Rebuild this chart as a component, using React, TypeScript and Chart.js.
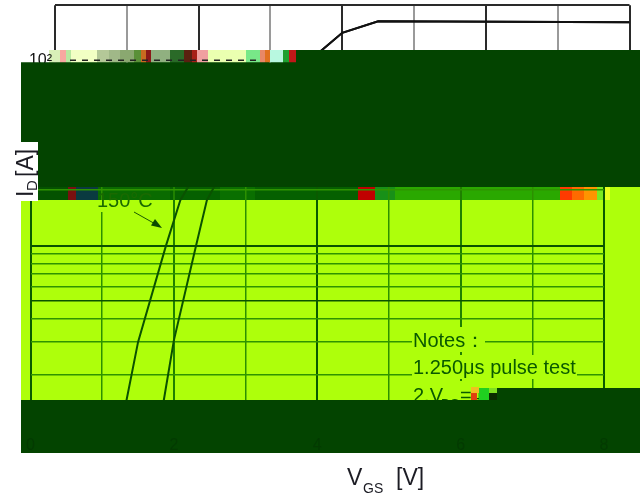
import React, { useEffect, useRef } from "react";
import { Chart, registerables } from "chart.js";

Chart.register(...registerables);

// Values (V_GS in volts, I_D in amperes); the stretch
// hidden by the dark bands is estimated.
const vgsCold = [1.25, 1.34, 1.5, 1.89, 2.09, 3.0, 3.7, 4.0, 4.5, 8];
const idCold = [1, 1.46, 3.0, 10, 17.6, 70, 113, 142, 164, 162];
const vgsHot = [1.78, 1.86, 2.0, 2.31, 2.46, 3.3, 3.7, 4.0, 4.5, 8];
const idHot = [1, 1.46, 3.07, 10, 17.6, 70, 113, 142, 164, 162];
const xMin = 0;
const xMax = 8;
const yMin = 1;
const yMax = 200;
const yTickValues = [1, 2, 3, 4, 5, 6, 7, 8, 9, 10, 20, 30, 40, 50, 60, 70, 80, 90, 100, 200];
const xLabels: Record<number, string> = { 0: "0", 2: "2", 4: "4", 6: "6", 8: "8" };
const yLabels: Record<number, string> = { 1: "10⁰", 10: "10¹", 100: "10²" };
const tempLabel = "150°C";
const noteHead = "Notes：";
const noteOne = "1.250μs pulse test";
const FONT = '"Liberation Sans", Arial, sans-serif';

const DARK = "#034400";
const LIME = "#aeff0b";

// Damaged-image decoration: [x, width, colour]
const topStrip: [number, number, string][] = [
  [21, 28, "#ffffff"], [49, 11, "#d8efb8"], [60, 6, "#f8a8a0"], [66, 5, "#b8e8a0"],
  [71, 26, "#f2ffc4"], [97, 12, "#b4c898"], [109, 11, "#a0b888"], [120, 14, "#8aa870"],
  [134, 7, "#5a9038"], [141, 5, "#c86a20"], [146, 5, "#8a1818"], [151, 19, "#90b080"],
  [170, 14, "#2a6a28"], [184, 8, "#5a2010"], [192, 5, "#a82018"], [197, 11, "#f0a0a0"],
  [208, 38, "#eaffb0"], [246, 14, "#78e888"], [260, 5, "#e88868"], [265, 5, "#e07020"],
  [270, 13, "#b8f8e0"], [283, 6, "#20a030"], [289, 7, "#c01818"],
];
const lowStrip: [number, number, string][] = [
  [21, 47, "#045200"], [68, 8, "#7a1010"], [76, 22, "#0a3a40"], [98, 72, "#0a6b00"],
  [170, 50, "#056000"], [220, 35, "#0a6f00"], [255, 103, "#056000"], [358, 17, "#c00000"],
  [375, 20, "#189018"], [395, 165, "#2aa800"], [560, 12, "#ff3a00"], [572, 12, "#ff6a00"],
  [584, 13, "#ff9400"], [597, 6, "#7cea20"], [603, 7, "#e8ff20"],
];

function plainText(c: CanvasRenderingContext2D, s: string, x: number, y: number, font: string, color: string) {
  c.font = font;
  c.fillStyle = color;
  c.textAlign = "left";
  c.textBaseline = "alphabetic";
  c.fillText(s, x, y);
}

function noOverflow(s: any) {
  s.paddingTop = 0;
  s.paddingBottom = 0;
  s.paddingLeft = 0;
  s.paddingRight = 0;
}

function sharedOptions(tickColor: string, size: number, left: number, right: number, xGrid: any, yGrid: any, showY: boolean, plugin: any) {
  return {
    type: "line" as const,
    data: {
      datasets: [
        { label: "25°C", data: vgsCold.map((x, i) => ({ x, y: idCold[i] })) },
        { label: tempLabel, data: vgsHot.map((x, i) => ({ x, y: idHot[i] })) },
      ],
    },
    options: {
      responsive: false,
      animation: false as const,
      layout: { padding: { left: 0, right, top: 5.3, bottom: 0 } },
      elements: { point: { radius: 0 }, line: { tension: 0, borderWidth: 2 } },
      plugins: { legend: { display: false }, tooltip: { enabled: false } },
      scales: {
        x: {
          type: "linear" as const,
          min: xMin,
          max: xMax,
          border: { display: false },
          grid: { drawTicks: false, color: xGrid.color, lineWidth: xGrid.width },
          afterFit: (s: any) => { s.height = 65.7; noOverflow(s); },
          ticks: {
            stepSize: 1, autoSkip: false, maxRotation: 0, z: 1, padding: 6, color: tickColor,
            font: { family: FONT, size },
            callback: (v: any) => xLabels[Number(v)] ?? "",
          },
        },
        y: {
          type: "logarithmic" as const,
          min: yMin,
          max: yMax,
          border: { display: false },
          grid: { drawTicks: false, color: yGrid.color, lineWidth: yGrid.width },
          afterBuildTicks: (s: any) => { s.ticks = yTickValues.map((value) => ({ value })); },
          afterFit: (s: any) => { s.width = left; noOverflow(s); },
          ticks: {
            display: showY, autoSkip: false, maxRotation: 0, z: 1, padding: 3, color: tickColor,
            font: { family: FONT, size },
            callback: (v: any) => yLabels[Number(v)] ?? "",
          },
        },
      },
    },
    plugins: [plugin],
  };
}

const lowerPlugin = {
  id: "lowerLayer",
  beforeDraw(chart: any) {
    const c = chart.ctx as CanvasRenderingContext2D;
    c.save();
    c.fillStyle = "#ffffff";
    c.fillRect(0, 0, 640, 496);
    c.fillStyle = LIME;
    c.fillRect(21, 187, 619, 213);
    for (const [x, w, col] of lowStrip) {
      c.fillStyle = col;
      c.fillRect(x, 187, w, 13);
    }
    c.restore();
  },
  afterDatasetsDraw(chart: any) {
    const c = chart.ctx as CanvasRenderingContext2D;
    c.save();
    // the lower layer does not reach the top of the image
    c.fillStyle = "#ffffff";
    c.fillRect(0, 0, 640, 50);
    // temperature label and arrow
    c.fillStyle = LIME;
    c.fillRect(97, 200, 54, 12);
    plainText(c, tempLabel, 97, 207, `20px ${FONT}`, "#1a6a00");
    c.strokeStyle = "#1a5a00";
    c.lineWidth = 1;
    c.beginPath(); c.moveTo(134, 212); c.lineTo(158, 225.5); c.stroke();
    c.fillStyle = "#0a4a00";
    c.beginPath(); c.moveTo(162, 228); c.lineTo(151, 225.5); c.lineTo(155, 219); c.closePath(); c.fill();
    // notes
    c.fillStyle = LIME;
    c.fillRect(412, 327, 73, 25);
    c.fillRect(412, 355, 165, 24);
    c.fillRect(412, 381, 108, 19);
    const noteFont = `20px ${FONT}`;
    const ink = "#0a5a00";
    plainText(c, noteHead, 413, 347, noteFont, ink);
    plainText(c, noteOne, 413, 374, noteFont, ink);
    plainText(c, "2.V", 413, 402, noteFont, ink);
    plainText(c, "DS", 441, 408, `13px ${FONT}`, ink);
    plainText(c, "=40V", 460, 402, noteFont, ink);
    // dark bands
    c.fillStyle = DARK;
    c.fillRect(21, 50, 619, 137);
    c.fillRect(21, 400, 619, 53);
    c.fillRect(497, 388, 143, 12);
    // damage around the note
    const bits: [number, number, number, number, string][] = [
      [471, 387, 8, 6, "#f0c020"], [471, 393, 6, 7, "#e04010"], [479, 388, 10, 12, "#20d020"], [489, 388, 8, 5, "#80e020"], [489, 393, 8, 7, "#0a2a00"],
    ];
    for (const [x, y, w, h, col] of bits) {
      c.fillStyle = col;
      c.fillRect(x, y, w, h);
    }
    // axis titles
    c.fillStyle = "#ffffff";
    c.fillRect(8, 142, 30, 59);
    const titleInk = "#1c1c24";
    c.save();
    c.translate(33, 197);
    c.rotate(-Math.PI / 2);
    plainText(c, "I", 0, 0, `23px ${FONT}`, titleInk);
    plainText(c, "D", 6, 4, `15px ${FONT}`, titleInk);
    plainText(c, "[A]", 20, 0, `23px ${FONT}`, titleInk);
    c.restore();
    plainText(c, "V", 347, 485, `23px ${FONT}`, titleInk);
    plainText(c, "GS", 363, 493, `14px ${FONT}`, titleInk);
    plainText(c, "[V]", 396, 485, `23px ${FONT}`, titleInk);
    c.restore();
  },
};

const upperPlugin = {
  id: "upperLayer",
  afterDatasetsDraw(chart: any) {
    const c = chart.ctx as CanvasRenderingContext2D;
    c.save();
    for (const [x, w, col] of topStrip) {
      c.fillStyle = col;
      c.fillRect(x, 50, w, 12.5);
    }
    c.fillStyle = "#222222";
    for (let x = 70; x < 262; x += 12) {
      c.fillRect(x, 59.5, 6, 1.5);
    }
    c.restore();
  },
};

const lowerX = {
  color: (t: any) => (t.tick && t.tick.value % 2 === 0 ? (t.tick.value % 4 === 0 ? "#0a5a00" : "#1f8000") : "#2c9000"),
  width: (t: any) => (t.tick && t.tick.value % 2 === 0 ? 2 : 1.5),
};
const lowerY = {
  color: (t: any) => (t.tick && (t.tick.value === 10 || t.tick.value === 5) ? "#0a5200" : "#2f9400"),
  width: (t: any) => (t.tick && t.tick.value === 10 ? 2 : 1.5),
};
const upperX = {
  color: (t: any) => (t.tick && t.tick.value % 2 === 0 ? "#2a2a2a" : "#9a9a9a"),
  width: () => 2,
};
const upperY = {
  color: () => "#2a2a2a",
  width: () => 2,
};

const canvasStyle: React.CSSProperties = { position: "absolute", left: 0, top: 0, display: "block" };

export default function App() {
  const lowerRef = useRef<HTMLCanvasElement>(null);
  const upperRef = useRef<HTMLCanvasElement>(null);

  useEffect(() => {
    const low = sharedOptions("#033a00", 16, 30.5, 36, lowerX, lowerY, false, lowerPlugin) as any;
    low.data.datasets.forEach((d: any) => { d.borderColor = "#0a5200"; });
    const up = sharedOptions("#111111", 16, 55, 10.5, upperX, upperY, true, upperPlugin) as any;
    up.data.datasets.forEach((d: any) => { d.borderColor = "#111111"; });
    const a = new Chart(lowerRef.current!, low);
    const b = new Chart(upperRef.current!, up);
    return () => { a.destroy(); b.destroy(); };
  }, []);

  return (
    <div style={{ position: "absolute", left: 0, top: 0, width: 640, height: 496, background: "#fff", overflow: "hidden" }}>
      <canvas ref={lowerRef} width={640} height={496} style={canvasStyle} />
      <canvas
        ref={upperRef}
        width={640}
        height={496}
        style={{
          ...canvasStyle,
          clipPath: "polygon(0px 0px, 640px 0px, 640px 50px, 296px 50px, 296px 62.5px, 21px 62.5px, 21px 50px, 0px 50px)",
        }}
      />
    </div>
  );
}
